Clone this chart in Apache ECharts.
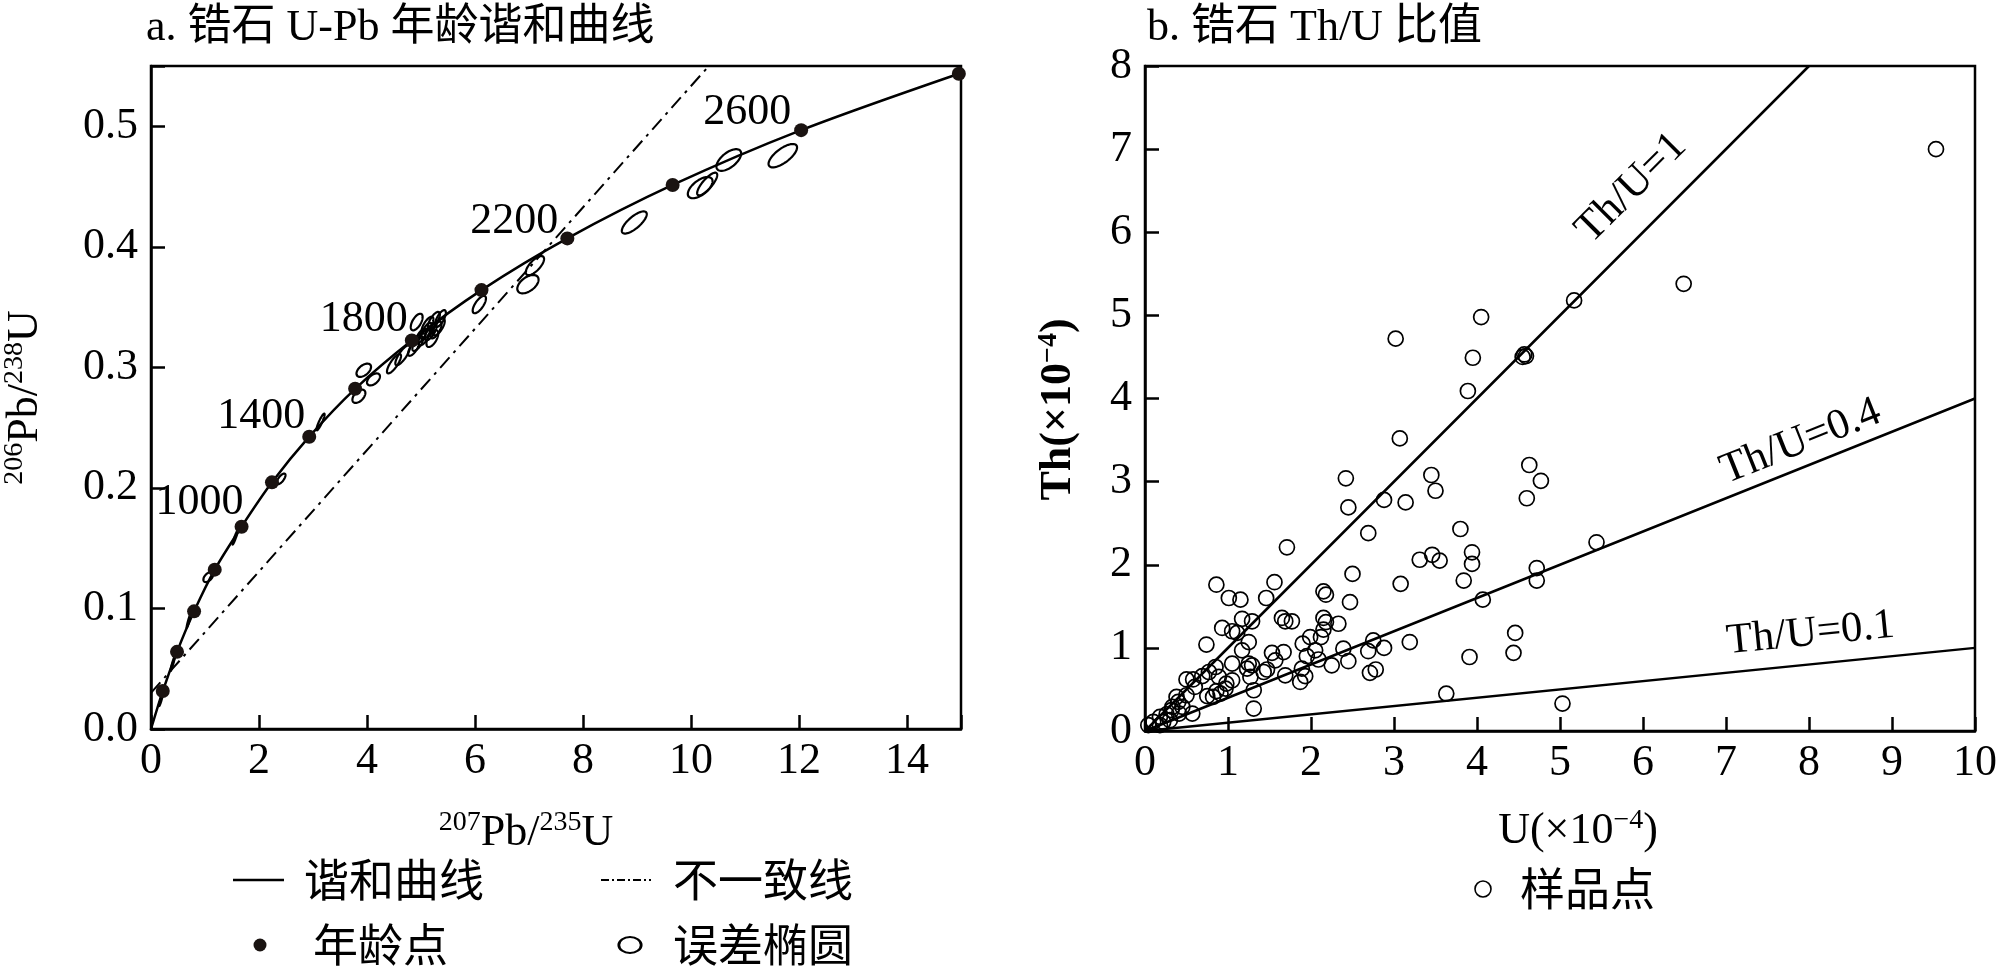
<!DOCTYPE html>
<html>
<head>
<meta charset="utf-8">
<script src="https://cdn.jsdelivr.net/npm/echarts@6/dist/echarts.min.js"></script>
<style>
html,body{margin:0;padding:0;background:#fff;}
#c{width:2000px;height:969px;}
</style>
</head>
<body>
<div id="c"></div>
<script>
// ---------- Panel a: U-Pb concordia ----------
const ages  = [200, 400, 600, 800, 1000, 1200, 1400, 1600, 1800, 2000, 2200, 2400, 2600, 2800];
const ageX  = [0.218, 0.482, 0.798, 1.18, 1.677, 2.24, 2.93, 3.78, 4.83, 6.12, 7.71, 9.66, 12.04, 14.96];
const ageY  = [0.0315, 0.064, 0.0976, 0.1322, 0.1678, 0.2046, 0.2425, 0.2822, 0.3223, 0.3641, 0.4070, 0.4513, 0.4968, 0.5436];
const labeledAges = [1000, 1400, 1800, 2200, 2600];

const discordiaX = [0, 10.31];
const discordiaY = [0.030, 0.549];

// error ellipses: centre (x, y), half-range in x and y, correlation
const ellX   = [10.70, 11.70, 10.17, 10.30, 8.95, 7.11, 6.98, 6.08, 4.92, 5.24, 5.33, 5.18, 5.06, 5.21, 4.94, 4.86, 5.36, 5.12, 5.10, 5.28, 5.00, 4.66, 4.50, 3.94, 4.12, 3.85, 3.14, 2.41, 1.06, 1.56, 0.70, 0.40, 0.19];
const ellY   = [0.4720, 0.4756, 0.4491, 0.4521, 0.4202, 0.3844, 0.3690, 0.3521, 0.3376, 0.3390, 0.3335, 0.3294, 0.3252, 0.3239, 0.3197, 0.3156, 0.3405, 0.3350, 0.3300, 0.3310, 0.3260, 0.3100, 0.3030, 0.2976, 0.2900, 0.2760, 0.2547, 0.2075, 0.1260, 0.1590, 0.0900, 0.0540, 0.0250];
const ellSx  = [0.229, 0.264, 0.229, 0.186, 0.231, 0.169, 0.197, 0.123, 0.11, 0.11, 0.11, 0.11, 0.11, 0.11, 0.10, 0.10, 0.10, 0.11, 0.10, 0.10, 0.10, 0.135, 0.13, 0.135, 0.12, 0.12, 0.075, 0.081, 0.09, 0.05, 0.04, 0.04, 0.04];
const ellSy  = [0.0090, 0.0097, 0.0088, 0.0094, 0.0092, 0.0079, 0.0076, 0.0072, 0.0069, 0.0070, 0.0070, 0.0070, 0.0070, 0.0070, 0.0060, 0.0060, 0.0070, 0.0070, 0.0070, 0.0070, 0.0060, 0.0083, 0.0080, 0.0055, 0.0050, 0.0055, 0.0069, 0.0044, 0.0041, 0.0060, 0.0060, 0.0060, 0.0060];
const ellRho = [0.6, 0.7, 0.6, 0.8, 0.75, 0.7, 0.5, 0.7, 0.6, 0.7, 0.7, 0.7, 0.7, 0.6, 0.7, 0.7, 0.7, 0.7, 0.7, 0.7, 0.7, 0.8, 0.8, 0.5, 0.5, 0.5, 0.9, 0.7, 0.5, 0.95, 0.95, 0.95, 0.95];

// ---------- Panel b: Th vs U ----------
const sampleU  = [9.53, 6.49, 5.17, 4.05, 3.02, 3.95, 3.89, 4.55, 4.57, 4.59, 3.07, 2.42, 2.45, 3.45, 3.50, 2.88, 3.14, 2.69, 4.63, 4.77, 4.60, 3.80, 3.94, 3.94, 3.46, 3.31, 3.55, 3.08, 3.84, 5.44, 4.72, 4.72, 4.07, 4.46, 4.44, 3.91, 3.19, 2.88, 2.75, 2.69, 2.78, 2.71, 3.63, 5.03,
  1.71, 0.86, 1.56, 2.50, 1.01, 1.15, 1.46, 2.15, 2.18, 2.47, 0.74, 0.93, 1.05, 1.11, 1.17, 1.29, 1.25, 1.17, 1.65, 1.69, 1.77, 2.15, 2.18, 2.33, 2.15, 2.12, 1.99, 1.90, 2.05, 1.95, 2.09, 2.39, 2.45, 2.25, 1.89, 1.87, 1.93, 1.53, 1.67, 1.57, 1.43, 1.47, 1.69, 1.29, 1.23, 1.27, 1.25, 1.05, 1.31, 1.31, 1.05, 0.97, 0.91, 0.98, 0.86, 0.75, 0.77, 0.85, 0.89, 0.69, 0.58, 0.50, 0.60, 0.50, 0.57, 0.38, 0.40, 0.33, 0.32, 0.26, 0.18, 0.10, 0.04, 0.22, 0.30, 0.41, 0.45, 0.18, 0.82];
const sampleTh = [7.00, 5.38, 5.18, 4.98, 4.72, 4.49, 4.09, 4.50, 4.53, 4.51, 3.52, 3.04, 2.69, 3.08, 2.89, 2.78, 2.75, 2.38, 3.20, 3.01, 2.80, 2.43, 2.15, 2.01, 2.12, 2.06, 2.05, 1.77, 1.81, 2.27, 1.96, 1.81, 1.58, 1.18, 0.94, 0.89, 1.07, 1.00, 1.09, 0.96, 0.74, 0.70, 0.45, 0.33,
  2.21, 1.76, 1.79, 1.89, 1.60, 1.58, 1.60, 1.68, 1.64, 1.55, 1.04, 1.24, 1.20, 1.18, 1.35, 1.32, 1.07, 0.97, 1.36, 1.32, 1.32, 1.36, 1.31, 1.29, 1.22, 1.13, 1.13, 1.05, 0.97, 0.90, 0.86, 0.99, 0.84, 0.79, 0.75, 0.59, 0.66, 0.94, 0.95, 0.85, 0.71, 0.74, 0.67, 0.79, 0.75, 0.65, 0.81, 0.81, 0.49, 0.27, 0.61, 0.51, 0.45, 0.57, 0.48, 0.42, 0.71, 0.77, 0.65, 0.66, 0.62, 0.62, 0.53, 0.43, 0.21, 0.41, 0.35, 0.29, 0.25, 0.20, 0.17, 0.11, 0.07, 0.11, 0.13, 0.21, 0.29, 0.07, 0.41];

const ratioLabels = ['Th/U=1', 'Th/U=0.4', 'Th/U=0.1'];
const ratioLineEnds = [[8, 8], [10, 4], [10, 1]];

const xTicksA = [0, 2, 4, 6, 8, 10, 12, 14];
const yTicksA = [0.0, 0.1, 0.2, 0.3, 0.4, 0.5];

// ---------- build ----------
const SERIF = "'Liberation Serif','Times New Roman','Noto Sans CJK SC',serif";
const CJK = "'Noto Sans CJK SC','Liberation Serif',sans-serif";

const concordiaData = [[0, 0]].concat(ages.map((a, i) => [ageX[i], ageY[i]]));
const labelOffsets = {1000: [-42, -24], 1400: [-48, -20], 1800: [-48, -21], 2200: [-53, -17], 2600: [-54, -18]};
const agePointData = ages.map((a, i) => {
  const item = {value: [ageX[i], ageY[i]]};
  if (labeledAges.indexOf(a) >= 0) {
    item.label = {show: true, formatter: String(a), position: 'inside', offset: labelOffsets[a],
                  color: '#000', opacity: 1, textBorderWidth: 0, textBorderColor: 'transparent'};
  }
  return item;
});
const ellipseData = ellX.map((x, i) => [x, ellY[i], ellSx[i], ellSy[i], ellRho[i]]);
const sampleData = sampleU.map((u, i) => [u, sampleTh[i]]);

function isTick(v, list) { return list.some(t => Math.abs(t - v) < 1e-6); }

const axisLineStyle = {color: '#000', width: 2.5};
const tickStyle = {show: true, inside: true, length: 14, lineStyle: {color: '#000', width: 2.5}};
const labelBase = {color: '#000', fontFamily: SERIF, fontSize: 44, margin: 10};
const supRich = {
  base: {fontFamily: SERIF, fontSize: 44, color: '#000', lineHeight: 48},
  sup: {fontFamily: SERIF, fontSize: 28, color: '#000', verticalAlign: 'top', lineHeight: 48, padding: [0, 0, 16, 0]}
};
const supRichBold = {
  base: {fontFamily: SERIF, fontSize: 44, color: '#000', fontWeight: 'bold', lineHeight: 48},
  sup: {fontFamily: SERIF, fontSize: 28, color: '#000', fontWeight: 'bold', verticalAlign: 'top', lineHeight: 48, padding: [0, 0, 16, 0]}
};

const chart = echarts.init(document.getElementById('c'), null, {renderer: 'canvas'});
const option = {
  animation: false,
  backgroundColor: '#fff',
  title: [
    {text: 'a. 锆石 U-Pb 年龄谐和曲线', left: 141, top: 1, textStyle: {fontFamily: SERIF, fontSize: 44, fontWeight: 'normal', color: '#000'}},
    {text: 'b. 锆石 Th/U 比值', left: 1142, top: 1, textStyle: {fontFamily: SERIF, fontSize: 44, fontWeight: 'normal', color: '#000'}}
  ],
  grid: [
    {left: 144, top: 66, width: 817, height: 663, show: true, borderColor: '#000', borderWidth: 2.5, backgroundColor: 'transparent'},
    {left: 1145, top: 66, width: 835, height: 665, show: true, borderColor: '#000', borderWidth: 2.5, backgroundColor: 'transparent'}
  ],
  xAxis: [
    {type: 'value', gridIndex: 0, min: 0, max: 15, interval: 2,
     axisLine: {lineStyle: axisLineStyle}, axisTick: tickStyle, splitLine: {show: false},
     axisLabel: Object.assign({}, labelBase, {formatter: v => isTick(v, xTicksA) ? String(v) : ''}),
     name: '{sup|207}{base|Pb/}{sup|235}{base|U}', nameLocation: 'middle', nameGap: 80,
     nameTextStyle: {rich: supRich, padding: [0, 60, 0, 0]}},
    {type: 'value', gridIndex: 1, min: 0, max: 10, interval: 1,
     axisLine: {lineStyle: axisLineStyle}, axisTick: tickStyle, splitLine: {show: false},
     axisLabel: labelBase,
     name: '{base|U(×10}{sup|−4}{base|)}', nameLocation: 'middle', nameGap: 76,
     nameTextStyle: {rich: supRich, padding: [0, 0, 0, 36]}},
  ],
  yAxis: [
    {type: 'value', gridIndex: 0, min: 0, max: 0.55, interval: 0.1,
     axisLine: {lineStyle: axisLineStyle}, axisTick: tickStyle, splitLine: {show: false},
     axisLabel: Object.assign({}, labelBase, {margin: 13, formatter: v => isTick(v, yTicksA) ? v.toFixed(1) : ''}),
     name: '{sup|206}{base|Pb/}{sup|238}{base|U}', nameLocation: 'middle', nameGap: 102,
     nameTextStyle: {rich: supRich}},
    {type: 'value', gridIndex: 1, min: 0, max: 8, interval: 1,
     axisLine: {lineStyle: axisLineStyle}, axisTick: tickStyle, splitLine: {show: false},
     axisLabel: Object.assign({}, labelBase, {margin: 13}),
     name: '{base|Th(×10}{sup|−4}{base|)}', nameLocation: 'middle', nameGap: 62,
     nameTextStyle: {rich: supRichBold, padding: [0, 22, 0, 0]}}
  ],
  series: [
    {name: '谐和曲线', type: 'line', xAxisIndex: 0, yAxisIndex: 0, data: concordiaData, smooth: 0.3,
     symbol: 'none', lineStyle: {color: '#000', width: 2.5}, z: 2, silent: true},
    {name: '不一致线', type: 'line', xAxisIndex: 0, yAxisIndex: 0,
     data: discordiaX.map((x, i) => [x, discordiaY[i]]), symbol: 'none',
     lineStyle: {color: '#000', width: 2, type: [14, 6, 3, 6]}, z: 2, silent: true},
    {name: '误差椭圆', type: 'custom', xAxisIndex: 0, yAxisIndex: 0, data: ellipseData,
     encode: {x: 0, y: 1}, z: 3, silent: true,
     renderItem: function (params, api) {
       const x = api.value(0), y = api.value(1), sx = api.value(2), sy = api.value(3), r = api.value(4);
       const q = Math.sqrt(1 - r * r);
       const pts = [];
       const n = 64;
       for (let k = 0; k < n; k++) {
         const t = 2 * Math.PI * k / n;
         pts.push(api.coord([x + sx * Math.cos(t), y + sy * (r * Math.cos(t) + q * Math.sin(t))]));
       }
       return {type: 'polygon', shape: {points: pts}, style: {fill: 'none', stroke: '#000', lineWidth: 2.2}};
     }},
    {name: '年龄点', type: 'scatter', xAxisIndex: 0, yAxisIndex: 0, data: agePointData,
     symbol: 'circle', symbolSize: 14, itemStyle: {color: '#1a1311', opacity: 1}, z: 4, silent: true,
     label: {show: false, color: '#000', fontFamily: SERIF, fontSize: 44, align: 'center', verticalAlign: 'middle'}},
    {name: 'Th/U lines', type: 'line', xAxisIndex: 1, yAxisIndex: 1, symbol: 'none', silent: true,
     data: [[0, 0], ratioLineEnds[0], null, [0, 0], ratioLineEnds[1], null, [0, 0], ratioLineEnds[2]],
     connectNulls: false, lineStyle: {color: '#000', width: 2.5}, z: 2},
    {name: '样品点', type: 'scatter', xAxisIndex: 1, yAxisIndex: 1, data: sampleData,
     symbol: 'circle', symbolSize: 15, itemStyle: {color: 'rgba(0,0,0,0)', borderColor: '#000', borderWidth: 1.7, opacity: 1}, z: 3, silent: true},
    {name: 'ratio labels', type: 'scatter', xAxisIndex: 1, yAxisIndex: 1, symbol: 'circle', symbolSize: 1,
     itemStyle: {color: 'rgba(0,0,0,0)', opacity: 1}, silent: true, z: 5,
     data: [
       {value: [5.86, 6.53], label: {formatter: ratioLabels[0], rotate: 45}},
       {value: [7.90, 3.48], label: {formatter: ratioLabels[1], rotate: 21.7}},
       {value: [8.02, 1.17], label: {formatter: ratioLabels[2], rotate: 5.7}}
     ],
     label: {show: true, position: 'inside', color: '#000', fontFamily: SERIF, fontSize: 43,
             align: 'center', verticalAlign: 'middle', textBorderWidth: 0, textBorderColor: 'transparent'}}
  ],
  graphic: [
    {type: 'line', shape: {x1: 233, y1: 880, x2: 284, y2: 880}, style: {stroke: '#000', lineWidth: 2.5}},
    {type: 'text', x: 304, y: 880, style: {text: '谐和曲线', fontFamily: CJK, fontSize: 45, fill: '#000', verticalAlign: 'middle'}},
    {type: 'line', shape: {x1: 601, y1: 880, x2: 651, y2: 880}, style: {stroke: '#000', lineWidth: 2, lineDash: [8, 3, 2, 3]}},
    {type: 'text', x: 673, y: 880, style: {text: '不一致线', fontFamily: CJK, fontSize: 45, fill: '#000', verticalAlign: 'middle'}},
    {type: 'circle', shape: {cx: 260, cy: 945, r: 6.5}, style: {fill: '#1a1311'}},
    {type: 'text', x: 313, y: 945, style: {text: '年龄点', fontFamily: CJK, fontSize: 45, fill: '#000', verticalAlign: 'middle'}},
    {type: 'circle', x: 630, y: 945, scaleX: 1.4, shape: {cx: 0, cy: 0, r: 8}, style: {fill: 'none', stroke: '#000', lineWidth: 2, strokeNoScale: true}},
    {type: 'text', x: 673, y: 945, style: {text: '误差椭圆', fontFamily: CJK, fontSize: 45, fill: '#000', verticalAlign: 'middle'}},
    {type: 'circle', shape: {cx: 1483, cy: 889, r: 8}, style: {fill: 'none', stroke: '#000', lineWidth: 1.6}},
    {type: 'text', x: 1520, y: 889, style: {text: '样品点', fontFamily: CJK, fontSize: 45, fill: '#000', verticalAlign: 'middle'}}
  ]
};
chart.setOption(option);
</script>
</body>
</html>
